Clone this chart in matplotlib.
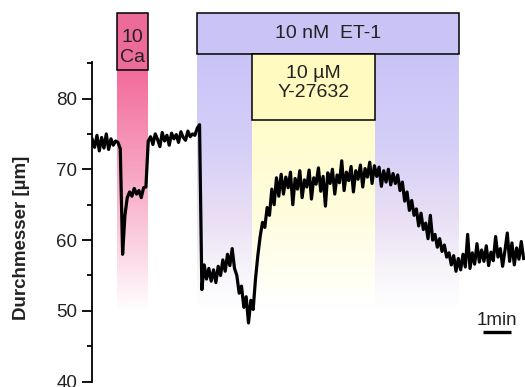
import numpy as np
import matplotlib.pyplot as plt
from matplotlib.colors import LinearSegmentedColormap
from matplotlib.patches import Rectangle

plt.rcParams['font.family'] = ['Liberation Sans', 'DejaVu Sans']

# vessel diameter [um], one sample every 5 s
dt = 5
baseline = [74.2, 73.1, 74.8, 72.6, 74.5, 73.0, 75.0, 72.8, 74.3, 73.4, 74.0, 73.8]
calcium = [72.9, 58.0, 63.5, 66.0, 66.8, 66.2, 67.3, 66.5, 67.0, 66.0, 67.4, 67.5]
washout = [74.0, 74.6, 73.5, 75.0, 74.2, 73.2, 75.2, 74.0, 74.8, 73.4, 75.1, 74.3,
           74.9, 73.8, 75.3, 74.5, 74.1, 75.4, 74.6, 75.0, 74.8, 75.8, 76.3]
et1 = [53.0, 56.5, 54.5, 56.0, 54.2, 55.8, 54.0, 56.3, 55.0, 57.2, 55.6, 58.0,
       56.4, 58.8, 56.0, 55.0, 52.5, 53.5, 50.5, 52.0, 48.3]
y27632 = [51.5, 50.2, 54.5, 57.8, 60.5, 62.5, 61.8, 64.6, 63.5, 67.2, 65.0, 68.8,
          66.2, 69.3, 66.5, 68.9, 67.4, 69.6, 65.0, 68.7, 67.2, 69.8, 66.0, 68.5,
          67.5, 69.9, 65.8, 68.8, 67.9, 70.2, 66.9, 69.0, 64.8, 69.5, 68.0, 70.0,
          66.5, 69.2, 68.1, 71.2, 67.0, 69.6, 68.4, 70.4, 66.8, 69.8, 68.6, 70.6,
          67.5, 70.1, 68.9, 71.0, 68.0, 70.5]
recovery = [69.0, 70.3, 67.6, 69.8, 68.2, 70.0, 67.8, 69.4, 68.0, 69.2, 67.0, 68.2,
            65.5, 66.8, 64.2, 65.6, 63.5, 64.4, 62.0, 63.8, 61.5, 62.4, 60.2, 63.5,
            60.0, 60.8, 59.0, 60.2, 58.4, 59.3, 57.6, 58.2, 56.5, 57.8, 55.6, 57.4,
            55.8, 58.0, 56.2, 60.8, 56.0, 58.2, 56.6, 59.5, 56.9, 58.6, 57.0, 59.2,
            56.4, 58.3, 57.1, 60.5, 57.6, 58.8, 56.3, 58.5, 61.0, 57.0, 59.6, 56.5,
            58.9, 57.3, 59.8, 57.4]

diameter = np.array(baseline + calcium + washout + et1 + y27632 + recovery)
time = np.arange(len(diameter)) * dt

# application periods [s] and their labels
ca_period = (54, 120)
et_period = (225, 786)
y_period = (343, 606)
ca_label = '10\nCa'
et_label = '10 nM  ET-1'
y_label = '10 \u00b5M\nY-27632'
scalebar = (838, 60)  # start, length [s]

fig = plt.figure(figsize=(5.25, 3.87), dpi=100)
ax = fig.add_axes([0.1758, 0.0137, 0.8242, 0.8269])


def shade(x0, x1, top, bottom, colors):
    cmap = LinearSegmentedColormap.from_list('g', colors)
    grad = np.linspace(0, 1, 256).reshape(-1, 1)
    im = ax.imshow(grad, cmap=cmap, aspect='auto', extent=(x0, x1, bottom, top),
                   origin='upper', zorder=1, interpolation='bilinear')
    im.set_clip_on(False)


shade(*ca_period, 84.0, 50.0,
      [(0, (0.95, 0.42, 0.61)), (0.45, (0.97, 0.66, 0.77)),
       (0.8, (0.99, 0.87, 0.92)), (1, (1, 1, 1))])
shade(*et_period, 86.26, 50.0,
      [(0, (0.79, 0.77, 0.97)), (0.35, (0.83, 0.81, 0.97)),
       (0.62, (0.91, 0.87, 0.96)), (0.85, (0.97, 0.96, 0.98)), (1, (1, 1, 1))])
shade(*y_period, 76.93, 51.0,
      [(0, (1, 0.99, 0.80)), (0.5, (1, 0.99, 0.87)),
       (0.85, (1, 1, 0.95)), (1, (1, 1, 1))])

# (period, bottom, top, face colour, label, label y)
boxes = [
    (ca_period, 84.0, 92.05, (0.93, 0.42, 0.60), ca_label, 87.2),
    (et_period, 86.26, 92.05, (0.79, 0.77, 0.96), et_label, 89.15),
    (y_period, 76.93, 86.26, (1.0, 0.98, 0.75), y_label, 82.2),
]
for (x0, x1), y0, y1, fc, text, ty in boxes:
    ax.add_patch(Rectangle((x0, y0), x1 - x0, y1 - y0, facecolor=fc,
                           edgecolor='black', lw=1.1, zorder=3, clip_on=False))
    ax.text((x0 + x1) / 2, ty, text, ha='center', va='center',
            fontsize=14, color='#222222', linespacing=1.2, zorder=4, clip_on=False)

ax.plot(time, diameter, color='black', lw=2.3, zorder=5)

# scale bar
ax.plot([scalebar[0], scalebar[0] + scalebar[1]], [47.0, 47.0], color='black',
        lw=2.4, solid_capstyle='butt', zorder=5)
ax.text(scalebar[0] + scalebar[1] / 2, 48.0, '1min', ha='center', va='baseline',
        fontsize=13.5, color='#222222')

ax.set_xlim(0, 928)
ax.set_ylim(40, 85.2)
for s in ['top', 'right', 'bottom']:
    ax.spines[s].set_visible(False)
ax.spines['left'].set_linewidth(1.3)
ax.set_xticks([])
ax.set_yticks([40, 50, 60, 70, 80])
ax.set_yticks([45, 55, 65, 75, 85], minor=True)
ax.tick_params(axis='y', which='major', length=7, width=1.3, labelsize=13.5,
               labelcolor='#222222', pad=4)
ax.tick_params(axis='y', which='minor', length=3.5, width=1.3)
ax.patch.set_alpha(0)

fig.text(22 / 525, 1 - 238 / 387, 'Durchmesser [\u00b5m]', rotation=90,
         ha='center', va='center', fontsize=13.5, fontweight='bold', color='#222222')

fig.savefig('out.png', dpi=100)
